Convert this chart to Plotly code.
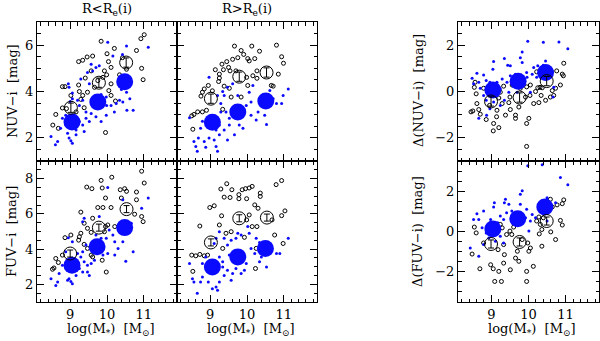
import plotly.graph_objects as go

# ---- NUV-i, R < Re(i) ----
nuv_in_black = [(11.01,6.45),(10.92,6.28),(9.84,6.17),(10.2,5.86),(10.8,5.77),(10.0,5.63),(10.42,5.46),
    (9.46,5.49),(9.61,5.53),(9.34,5.35),(9.23,5.29),(10.04,5.29),(10.11,5.04),(10.94,5.0),(9.57,4.89),
    (9.93,4.89),(9.99,4.72),(10.98,4.51),(9.75,4.47),(9.41,4.58),(8.79,4.21),(8.86,4.21),(9.25,4.0),
    (9.34,3.83),(9.29,3.66),(10.11,3.83),(10.23,3.59),(9.70,3.62),(8.90,3.26),(8.79,3.29),(8.61,3.01),
    (8.53,2.55),(8.68,2.41),(9.96,2.23),(9.16,3.12),(9.38,3.30),(9.66,4.18),(9.89,4.61),(10.53,4.96),
    (10.34,4.72),(10.11,4.33),(9.02,3.83),(9.23,4.28),(10.05,4.04),(9.47,3.97)]
nuv_in_blue = [(11.12,5.91),(10.02,6.13),(10.53,5.96),(10.42,5.6),(10.16,5.53),(9.79,5.11),(9.61,4.89),
    (9.52,4.33),(8.95,4.33),(8.97,4.18),(9.06,3.69),(9.0,3.57),(9.25,3.40),(9.43,3.12),(9.57,3.05),
    (9.70,2.91),(9.84,2.70),(9.98,2.98),(10.2,3.12),(10.43,3.55),(10.54,3.19),(10.71,3.19),(10.53,3.97),
    (10.39,4.09),(10.11,3.40),(10.25,3.48),(9.25,2.70),(9.34,2.55),(9.38,2.27),(9.16,2.34),(8.97,1.99),
    (9.02,1.87),(9.06,1.77),(8.66,1.84),(8.60,1.70),(8.48,2.06),(8.74,2.41),(8.79,2.84),(8.88,2.98),
    (9.43,2.84),(9.52,2.70),(9.61,3.52),(9.84,3.87),(9.98,3.76),(9.99,3.40),(9.29,4.54),(9.47,4.82),
    (9.57,5.18),(9.70,5.04),(9.06,3.94),(9.20,3.62),(9.34,3.62),(9.70,3.83),(10.34,3.62),(10.62,3.69),
    (8.88,2.55),(9.16,2.13),(8.93,2.20)]
nuv_in_bin_blue = [(9.05,2.68),(9.75,3.55),(10.48,4.42)]
nuv_in_bin_black = [(9.02,3.3),(9.78,4.38),(10.52,5.25)]

# ---- NUV-i, R > Re(i) ----
nuv_out_black = [(10.8,6.0),(9.66,5.96),(10.13,5.96),(9.84,5.77),(9.91,5.60),(10.34,5.74),(10.94,5.50),
    (10.21,5.42),(10.02,5.42),(10.06,5.32),(9.75,5.46),(9.61,5.39),(9.45,5.29),(9.32,5.18),(9.14,4.94),
    (9.36,4.94),(9.50,5.04),(9.54,4.89),(9.25,4.75),(9.25,4.58),(9.23,4.43),(9.38,4.23),(8.95,4.26),
    (8.84,4.11),(8.75,3.80),(8.79,3.97),(9.06,4.03),(10.02,4.26),(10.16,4.68),(10.27,4.57),(10.66,4.26),
    (10.71,4.23),(10.99,5.22),(10.85,4.75),(9.99,4.61),(9.84,3.76),(9.57,3.76),(9.34,3.23),(8.90,3.19),
    (8.79,3.12),(8.66,3.12),(8.56,3.01),(8.50,2.95),(8.53,2.37),(10.27,4.89),(9.70,4.89),(9.52,4.14)]
nuv_out_blue = [(11.12,4.11),(10.98,3.83),(10.94,3.48),(10.62,4.04),(10.48,3.55),(10.48,2.98),(10.53,2.58),
    (10.30,3.12),(10.25,2.77),(10.11,2.98),(10.11,3.55),(10.06,3.97),(10.16,4.26),(9.89,3.12),(9.89,2.41),
    (9.66,2.13),(9.79,2.55),(9.52,2.84),(9.38,2.34),(9.47,1.91),(9.25,2.55),(9.25,2.13),(9.16,2.34),
    (9.11,1.91),(9.16,1.63),(9.20,1.42),(8.97,1.99),(8.84,1.84),(8.88,1.59),(8.68,1.99),(8.61,1.63),
    (8.65,1.42),(8.56,1.84),(8.74,2.41),(8.44,2.87),(8.79,2.72),(9.29,3.12),(9.29,3.48),(9.38,3.83),
    (9.20,3.83),(9.34,4.0),(9.47,4.18),(9.61,4.33),(8.97,4.61),(9.75,3.83),(9.98,3.40),(9.52,2.55),
    (9.70,3.12),(10.71,3.69),(10.80,3.48),(9.43,3.12)]
nuv_out_bin_blue = [(9.06,2.67),(9.75,3.12),(10.51,3.59)]
nuv_out_bin_black = [(9.02,3.69),(9.79,4.64),(10.53,4.82)]

# ---- FUV-i, R < Re(i) ----
fuv_in_black = [(10.94,8.42),(11.01,7.75),(9.84,7.90),(10.13,8.08),(9.45,7.52),(9.59,7.43),(9.87,7.47),
    (10.48,7.43),(10.53,7.28),(10.80,7.24),(10.36,7.37),(9.96,6.90),(10.39,6.90),(10.80,6.80),(9.29,6.10),
    (9.75,6.36),(9.89,6.36),(10.11,6.36),(10.75,5.98),(10.94,5.85),(10.98,5.56),(9.61,5.75),(9.38,5.47),
    (10.02,5.37),(9.96,5.28),(9.47,5.18),(9.29,4.90),(9.25,4.70),(9.02,4.80),(9.57,4.95),(9.93,4.99),
    (10.21,5.28),(8.86,4.65),(9.23,4.51),(9.38,4.27),(9.47,4.04),(9.98,2.70),(8.61,3.47),(8.79,3.66),
    (8.56,2.93),(8.52,2.86),(8.68,3.24),(9.87,3.37),(9.57,3.66),(9.61,3.56)]
fuv_in_blue = [(11.12,6.90),(10.94,6.32),(10.66,5.47),(10.62,5.09),(10.43,4.42),(10.51,3.31),(10.71,3.85),
    (10.21,4.42),(10.30,4.04),(10.16,4.80),(10.06,5.09),(9.98,4.61),(9.84,4.61),(9.70,4.80),(9.66,3.37),
    (9.57,3.18),(9.47,3.09),(9.38,3.28),(9.25,2.90),(9.34,2.70),(9.47,2.70),(9.52,2.51),(9.16,2.51),
    (8.97,2.32),(9.02,2.17),(9.06,2.04),(8.93,2.23),(8.61,1.94),(8.66,2.13),(8.48,2.32),(8.70,2.61),
    (8.79,3.09),(8.88,3.85),(8.95,4.65),(9.06,4.42),(9.34,3.85),(9.43,4.23),(9.34,5.56),(9.38,5.75),
    (9.79,5.85),(10.02,7.50),(10.43,6.80),(10.02,3.75),(9.89,3.66),(10.21,3.66),(9.20,3.75),(9.29,3.56),
    (8.88,2.99),(9.16,3.09)]
fuv_in_bin_blue = [(9.05,3.09),(9.73,4.13),(10.48,5.22)]
fuv_in_bin_black = [(9.0,3.75),(9.78,5.22),(10.53,6.27)]

# ---- FUV-i, R > Re(i) ----
fuv_out_black = [(10.94,7.89),(10.79,7.66),(9.45,7.71),(9.29,7.41),(9.59,7.37),(9.87,7.37),(9.96,7.43),
    (10.06,7.47),(10.14,7.56),(9.38,6.95),(9.54,6.93),(9.78,7.09),(9.78,6.86),(9.99,6.86),(10.36,7.18),
    (10.36,6.99),(9.11,6.46),(8.99,6.36),(10.21,6.51),(10.30,6.32),(11.03,6.17),(10.94,5.90),(10.68,5.66),
    (9.31,5.89),(10.06,5.94),(9.99,5.66),(10.14,5.28),(10.27,5.28),(9.25,5.37),(8.72,5.31),(9.57,4.99),
    (10.75,4.80),(10.98,4.32),(9.93,4.67),(9.43,4.90),(9.34,4.04),(8.50,3.66),(8.61,3.62),(8.72,3.70),
    (8.84,3.62),(8.93,3.66),(8.53,2.74),(10.23,2.90),(10.25,4.04),(9.75,3.56)]
fuv_out_blue = [(11.12,4.61),(10.89,3.75),(10.80,3.75),(10.53,2.99),(10.34,3.28),(10.39,3.56),(10.21,3.75),
    (10.11,4.04),(10.06,4.90),(10.02,5.28),(9.98,3.18),(9.93,2.80),(9.84,2.61),(9.70,2.90),(9.61,2.61),
    (9.57,2.23),(9.47,2.80),(9.38,2.51),(9.25,2.13),(9.16,1.85),(9.20,1.66),(9.06,1.75),(8.95,2.13),
    (8.79,2.42),(8.74,2.13),(8.65,1.50),(8.56,2.13),(8.52,2.32),(8.44,3.18),(8.79,3.18),(8.88,3.56),
    (9.25,3.56),(9.34,3.28),(9.47,4.23),(9.57,4.51),(9.70,4.61),(9.75,4.90),(9.84,4.80),(9.25,4.99),
    (9.16,4.61),(9.11,4.32),(9.38,4.61),(10.25,4.61),(10.34,4.38),(10.62,4.32),(9.52,3.66),(8.97,2.99),
    (9.34,2.99)]
fuv_out_bin_blue = [(9.06,2.99),(9.75,3.56),(10.5,4.04)]
fuv_out_bin_black = [(9.02,4.38),(9.79,5.75),(10.54,5.79)]

# ---- Delta(NUV-i) ----
dnuv_black = [(10.95,1.22),(10.76,0.89),(10.91,0.75),(10.94,0.68),(10.86,0.28),(10.73,0.14),(10.64,0.04),
    (10.25,0.16),(10.31,0.18),(10.37,0.16),(10.19,0.0),(10.34,-0.17),(10.22,0.85),(10.05,0.28),(9.95,0.20),
    (10.04,-0.17),(9.92,-0.24),(9.78,0.14),(9.56,0.28),(9.33,0.23),(9.24,-0.03),(9.20,-0.28),(9.50,-0.24),
    (9.47,-0.48),(9.51,-0.78),(9.38,-1.02),(9.14,-1.09),(9.06,-1.38),(9.05,-1.70),(9.20,-1.56),(8.86,-1.21),
    (8.70,-0.98),(8.66,-0.78),(8.45,-0.88),(8.50,-0.84),(8.61,-0.52),(8.59,-0.10),(8.54,0.18),(8.56,0.40),
    (8.79,0.14),(10.01,-1.16),(9.95,-1.38),(9.95,-2.37),(9.65,-1.02),(9.65,-1.16),(9.74,-0.67),(10.14,-0.52),
    (10.28,-0.48),(10.46,-0.38),(10.59,-0.24),(10.68,-0.17),(9.29,-0.52),(8.95,-0.60),(9.15,-0.81)]
dnuv_blue = [(9.98,2.17),(10.40,2.13),(10.82,2.14),(11.06,1.84),(9.83,1.70),(9.78,1.46),(9.35,1.42),
    (9.44,1.13),(9.51,1.11),(9.06,1.29),(9.04,0.96),(8.79,0.71),(8.61,0.79),(8.66,0.40),(8.48,0.57),
    (8.52,0.33),(8.70,0.14),(8.79,-0.17),(8.86,-0.38),(8.96,-0.74),(8.66,-1.16),(8.87,-1.02),(9.15,-0.17),
    (9.24,0.11),(9.29,0.54),(9.42,0.40),(9.51,0.68),(9.65,0.75),(9.96,0.61),(10.10,0.75),(10.22,0.61),
    (10.25,1.11),(10.40,1.13),(10.46,1.32),(10.64,0.89),(10.14,1.04),(10.68,0.18),(10.66,-0.24),(10.05,-0.03),
    (9.47,-0.03),(9.35,-0.38),(9.24,-0.60),(9.06,-0.45),(8.86,0.47),(8.96,0.40),(9.15,0.40),(9.69,-0.03),
    (9.83,1.25),(9.95,0.82)]
dnuv_bin_blue = [(9.04,0.06),(9.72,0.44),(10.46,0.82)]
dnuv_bin_black = [(8.99,-0.43),(9.76,-0.26),(10.49,0.45)]

# ---- Delta(FUV-i) ----
dfuv_black = [(10.95,1.57),(10.91,1.38),(10.77,1.32),(10.64,1.22),(10.59,1.60),(10.86,0.55),(10.91,0.32),
    (10.73,-0.40),(10.40,0.68),(10.28,0.72),(10.22,0.52),(10.32,0.35),(10.36,0.10),(10.29,-0.12),(10.60,-0.02),
    (10.36,-0.73),(10.13,-1.73),(9.95,-1.98),(9.95,-2.48),(10.01,-0.98),(10.05,-0.82),(9.98,-0.57),(9.83,-0.40),
    (9.60,0.22),(9.50,0.02),(9.41,-0.15),(9.55,-0.15),(9.29,0.18),(9.24,0.35),(9.35,-1.15),(9.65,-1.32),
    (9.74,-1.48),(9.51,-1.90),(9.33,-1.57),(9.20,-1.98),(9.05,-1.85),(8.98,-1.65),(8.69,-1.85),(9.09,-2.48),
    (9.27,-2.48),(8.48,-1.12),(8.54,0.22),(8.59,-0.07),(8.79,-0.57),(9.18,-0.90),(9.70,-0.98),(9.33,-0.65)]
dfuv_blue = [(9.98,3.27),(10.37,3.32),(10.86,2.68),(11.06,2.32),(9.83,2.02),(9.78,1.85),(9.38,1.60),
    (9.35,1.43),(9.08,1.43),(9.06,1.22),(9.47,1.35),(9.78,1.35),(9.95,1.10),(10.10,0.85),(10.50,1.68),
    (10.59,1.05),(10.50,0.52),(8.79,1.02),(8.61,0.88),(8.66,0.60),(8.52,0.60),(8.75,0.18),(8.86,-0.07),
    (8.43,-0.82),(8.66,-1.23),(8.79,-0.65),(8.93,-0.32),(9.11,-0.48),(9.24,-0.23),(9.33,-0.57),(9.17,0.43),
    (9.33,0.60),(9.41,0.93),(9.55,1.02),(9.60,0.77),(9.92,0.68),(10.05,0.52),(10.01,0.02),(10.19,0.68),
    (10.59,1.18),(10.73,1.43),(9.06,0.10),(8.98,0.60),(9.24,0.77),(9.69,0.52)]
dfuv_bin_blue = [(9.04,0.12),(9.71,0.63),(10.44,1.22)]
dfuv_bin_black = [(8.99,-0.62),(9.76,-0.52),(10.49,0.52)]

panels = [
    # axis suffix, black, blue, bin blue, bin black
    ("", nuv_in_black, nuv_in_blue, nuv_in_bin_blue, nuv_in_bin_black),
    ("2", nuv_out_black, nuv_out_blue, nuv_out_bin_blue, nuv_out_bin_black),
    ("3", dnuv_black, dnuv_blue, dnuv_bin_blue, dnuv_bin_black),
    ("4", fuv_in_black, fuv_in_blue, fuv_in_bin_blue, fuv_in_bin_black),
    ("5", fuv_out_black, fuv_out_blue, fuv_out_bin_blue, fuv_out_bin_black),
    ("6", dfuv_black, dfuv_blue, dfuv_bin_blue, dfuv_bin_black),
]

BLUE = "#0a0aff"
FONT = "DejaVu Serif"

fig = go.Figure()
for ax, blk, blu, bblu, bblk in panels:
    xa, ya = "x" + ax, "y" + ax
    fig.add_trace(go.Scatter(x=[p[0] for p in blk], y=[p[1] for p in blk], xaxis=xa, yaxis=ya,
                             mode="markers", marker=dict(symbol="circle-open", size=4, color="black",
                                                         line=dict(width=1, color="black"))))
    fig.add_trace(go.Scatter(x=[p[0] for p in blu], y=[p[1] for p in blu], xaxis=xa, yaxis=ya,
                             mode="markers", marker=dict(size=3, color=BLUE)))
    fig.add_trace(go.Scatter(x=[p[0] for p in bblu], y=[p[1] for p in bblu], xaxis=xa, yaxis=ya,
                             mode="markers", marker=dict(size=17, color=BLUE),
                             error_y=dict(type="constant", value=0.22, color=BLUE, thickness=1.2, width=5)))
    fig.add_trace(go.Scatter(x=[p[0] for p in bblk], y=[p[1] for p in bblk], xaxis=xa, yaxis=ya,
                             mode="markers", marker=dict(symbol="circle-open", size=13, color="black",
                                                         line=dict(width=1, color="black")),
                             error_y=dict(type="constant", value=0.2, color="black", thickness=1, width=3)))

W, H = 600, 341
xdom = [(37 / W, 177 / W), (177 / W, 317 / W), (458 / W, 599 / W)]
ydom = [(1 - 161 / H, 1 - 22 / H), (1 - 302 / H, 1 - 161 / H)]
yranges = [[1, 7], [1, 7], [-3, 3], [1, 9], [1, 9], [-3.5, 3.5]]

layout = dict(width=W, height=H, margin=dict(l=0, r=0, t=0, b=0), showlegend=False,
              plot_bgcolor="white", paper_bgcolor="white",
              font=dict(family=FONT, size=13, color="black"))
for i in range(6):
    row, col = i // 3, i % 3
    s = "" if i == 0 else str(i + 1)
    layout["xaxis" + s] = dict(domain=xdom[col], anchor="y" + s, range=[8.1, 11.9],
                               showgrid=False, zeroline=False, showline=True, linecolor="black",
                               linewidth=1, mirror="allticks", ticks="inside", ticklen=7,
                               tickcolor="black", dtick=1, tick0=0,
                               showticklabels=(row == 1),
                               minor=dict(ticks="inside", dtick=0.2, ticklen=3.5, tickcolor="black"))
    layout["yaxis" + s] = dict(domain=ydom[row], anchor="x" + s, range=yranges[i],
                               showgrid=False, zeroline=False, showline=True, linecolor="black",
                               linewidth=1, mirror="allticks", ticks="inside", ticklen=7,
                               tickcolor="black", dtick=2, tick0=0,
                               showticklabels=(col != 1),
                               minor=dict(ticks="inside", dtick=0.5, ticklen=3.5, tickcolor="black"))
fig.update_layout(**layout)

ann = [
    dict(x=107 / W, y=1 - 10 / H, text="R&lt;R<sub>e</sub>(i)"),
    dict(x=247 / W, y=1 - 10 / H, text="R&gt;R<sub>e</sub>(i)"),
    dict(x=111 / W, y=1 - 329 / H, text="log(M<sub>*</sub>)  [M<sub>⊙</sub>]"),
    dict(x=251 / W, y=1 - 329 / H, text="log(M<sub>*</sub>)  [M<sub>⊙</sub>]"),
    dict(x=532 / W, y=1 - 329 / H, text="log(M<sub>*</sub>)  [M<sub>⊙</sub>]"),
    dict(x=12 / W, y=1 - 91 / H, text="NUV−i  [mag]", textangle=-90),
    dict(x=12 / W, y=1 - 232 / H, text="FUV−i  [mag]", textangle=-90),
    dict(x=418 / W, y=1 - 91 / H, text="Δ(NUV−i)  [mag]", textangle=-90),
    dict(x=418 / W, y=1 - 232 / H, text="Δ(FUV−i)  [mag]", textangle=-90),
]
for a in ann:
    fig.add_annotation(xref="paper", yref="paper", showarrow=False, xanchor="center",
                       yanchor="middle", font=dict(family=FONT, size=13), **a)

fig.write_html("out.html", config={"displayModeBar": False},
               post_script="document.body.style.margin='0';document.body.style.overflow='hidden';")
